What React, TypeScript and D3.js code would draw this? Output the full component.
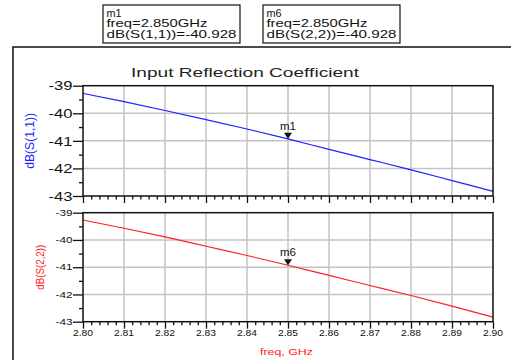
import { useEffect, useRef } from "react";
import * as d3 from "d3";

const freqs = [2.8, 2.81, 2.82, 2.83, 2.84, 2.85, 2.86, 2.87, 2.88, 2.89, 2.9];
const s11 = [-39.28, -39.58, -39.9, -40.23, -40.57, -40.928, -41.31, -41.68, -42.05, -42.44, -42.83];
const s22 = [-39.27, -39.57, -39.89, -40.23, -40.57, -40.928, -41.3, -41.67, -42.04, -42.43, -42.83];
const yTicks = [-39, -40, -41, -42, -43];
const xTicks = [2.8, 2.81, 2.82, 2.83, 2.84, 2.85, 2.86, 2.87, 2.88, 2.89, 2.9];

const markers = [
  { name: "m1", freq: 2.85, label: "dB(S(1,1))=-40.928", value: -40.928 },
  { name: "m6", freq: 2.85, label: "dB(S(2,2))=-40.928", value: -40.928 },
];

const FONT = "Arial, 'Liberation Sans', sans-serif";

function App() {
  const svgRef = useRef<SVGSVGElement>(null);

  useEffect(() => {
    const width = 511;
    const height = 360;
    const svg = d3.select(svgRef.current);
    svg.selectAll("*").remove();
    svg.attr("width", width).attr("height", height);

    const x = d3.scaleLinear().domain([2.8, 2.9]).range([83, 493]);

    // outer frame
    svg
      .append("rect")
      .attr("x", 13)
      .attr("y", 47)
      .attr("width", 520)
      .attr("height", 340)
      .attr("fill", "none")
      .attr("stroke", "#111")
      .attr("stroke-width", 1.5);

    svg
      .append("text")
      .attr("x", 131)
      .attr("y", 77)
      .attr("font-family", FONT)
      .attr("font-size", "13.5px")
      .attr("textLength", 228)
      .attr("lengthAdjust", "spacingAndGlyphs")
      .attr("fill", "#222")
      .text("Input Reflection Coefficient");

    // marker boxes
    markers.forEach((m, i) => {
      const bx = i === 0 ? 103 : 263;
      svg
        .append("rect")
        .attr("x", bx)
        .attr("y", 5)
        .attr("width", 137)
        .attr("height", 38)
        .attr("fill", "white")
        .attr("stroke", "#111")
        .attr("stroke-width", 1.2);
      const lines = [
        { t: m.name, w: 15 },
        { t: `freq=${m.freq.toFixed(3)}GHz`, w: 101 },
        { t: m.label, w: 130 },
      ];
      lines.forEach((l, j) => {
        svg
          .append("text")
          .attr("x", bx + 3.5)
          .attr("y", 16.5 + j * 10.8)
          .attr("font-family", FONT)
          .attr("font-size", "11px")
          .attr("textLength", l.w)
          .attr("lengthAdjust", "spacingAndGlyphs")
          .attr("fill", "#111")
          .text(l.t);
      });
    });

    const panels = [
      {
        top: 85.7, bottom: 196, data: s11, color: "#1f1fff", label: "dB(S(1,1))",
        labelX: 30, labelSize: 12, labelLen: 56, tickSize: 13, tickLen: 24, xLabels: false, marker: markers[0],
      },
      {
        top: 212.7, bottom: 321.7, data: s22, color: "#ff2020", label: "dB(S(2,2))",
        labelX: 40, labelSize: 10, labelLen: 45, tickSize: 8.5, tickLen: 17, xLabels: true, marker: markers[1],
      },
    ];

    panels.forEach(p => {
      const y = d3.scaleLinear().domain([-39, -43]).range([p.top, p.bottom]);
      const g = svg.append("g");

      // grid
      g.selectAll("line.vg")
        .data(xTicks.slice(1, -1))
        .enter()
        .append("line")
        .attr("x1", d => x(d))
        .attr("x2", d => x(d))
        .attr("y1", p.top)
        .attr("y2", p.bottom)
        .attr("stroke", "#c4c4c4")
        .attr("stroke-width", 1.5);
      g.selectAll("line.hg")
        .data(yTicks.slice(1, -1))
        .enter()
        .append("line")
        .attr("x1", x(2.8))
        .attr("x2", x(2.9))
        .attr("y1", d => y(d))
        .attr("y2", d => y(d))
        .attr("stroke", "#c4c4c4")
        .attr("stroke-width", 1.5);

      // data line
      const line = d3
        .line<number>()
        .x((_, i) => x(freqs[i]))
        .y(d => y(d))
        .curve(d3.curveMonotoneX);
      g.append("path")
        .datum(p.data)
        .attr("d", line)
        .attr("fill", "none")
        .attr("stroke", p.color)
        .attr("stroke-width", 1.2);

      // frame
      g.append("rect")
        .attr("x", x(2.8))
        .attr("y", p.top)
        .attr("width", x(2.9) - x(2.8))
        .attr("height", p.bottom - p.top)
        .attr("fill", "none")
        .attr("stroke", "#111")
        .attr("stroke-width", 1.5);

      // y axis
      const yAxis = d3
        .axisLeft(y)
        .tickValues(d3.range(-43, -38.9, 0.5))
        .tickSizeInner(0)
        .tickSizeOuter(0)
        .tickFormat(() => "");
      const ya = g.append("g").attr("transform", `translate(${x(2.8)},0)`).call(yAxis);
      ya.select(".domain").remove();
      ya.selectAll(".tick line")
        .attr("x2", d => (Number.isInteger(d as number) ? -10 : -4))
        .attr("stroke", "#111")
        .attr("stroke-width", 1.3);
      g.selectAll("text.yl")
        .data(yTicks)
        .enter()
        .append("text")
        .attr("x", x(2.8) - 10.5 - p.tickLen)
        .attr("y", d => y(d) + p.tickSize * 0.36)
        .attr("font-family", FONT)
        .attr("font-size", `${p.tickSize}px`)
        .attr("textLength", p.tickLen)
        .attr("lengthAdjust", "spacingAndGlyphs")
        .attr("fill", "#111")
        .text(d => d);

      // x axis
      const xa = g
        .append("g")
        .attr("transform", `translate(0,${p.bottom})`)
        .call(
          d3
            .axisBottom(x)
            .tickValues(d3.range(0, 51).map(i => 2.8 + i * 0.002))
            .tickSizeInner(0)
            .tickSizeOuter(0)
            .tickFormat(() => "")
        );
      xa.select(".domain").remove();
      xa.selectAll(".tick line")
        .attr("y2", (_, i) => (i % 5 === 0 ? 7 : 3.5))
        .attr("stroke", "#111")
        .attr("stroke-width", 1.3);

      if (p.xLabels) {
        g.selectAll("text.xl")
          .data(xTicks)
          .enter()
          .append("text")
          .attr("x", d => x(d) - 10)
          .attr("y", p.bottom + 14.5)
          .attr("font-family", FONT)
          .attr("font-size", "8.5px")
          .attr("textLength", 20)
          .attr("lengthAdjust", "spacingAndGlyphs")
          .attr("fill", "#111")
          .text(d => d.toFixed(2));
      }

      // y label
      g.append("text")
        .attr("transform", `translate(${p.labelX + p.labelSize * 0.35},${(p.top + p.bottom) / 2 + p.labelLen / 2}) rotate(-90)`)
        .attr("font-family", FONT)
        .attr("font-size", `${p.labelSize}px`)
        .attr("textLength", p.labelLen)
        .attr("lengthAdjust", "spacingAndGlyphs")
        .attr("fill", p.color)
        .text(p.label);

      // marker
      const mx = x(p.marker.freq);
      const my = y(p.marker.value);
      g.append("path")
        .attr("d", `M${mx - 4},${my - 6}L${mx + 4},${my - 6}L${mx},${my}Z`)
        .attr("fill", "#111");
      g.append("text")
        .attr("x", mx)
        .attr("y", my - 9)
        .attr("text-anchor", "middle")
        .attr("font-family", FONT)
        .attr("font-size", "11.5px")
        .attr("fill", "#111")
        .text(p.marker.name);
    });

    svg
      .append("text")
      .attr("x", 260)
      .attr("y", 355)
      .attr("font-family", FONT)
      .attr("font-size", "9px")
      .attr("textLength", 53)
      .attr("lengthAdjust", "spacingAndGlyphs")
      .attr("fill", "#ff2020")
      .text("freq, GHz");
  }, []);

  return (
    <svg
      ref={svgRef}
      style={{ position: "absolute", left: 0, top: 0, background: "white" }}
    ></svg>
  );
}

export default App;
